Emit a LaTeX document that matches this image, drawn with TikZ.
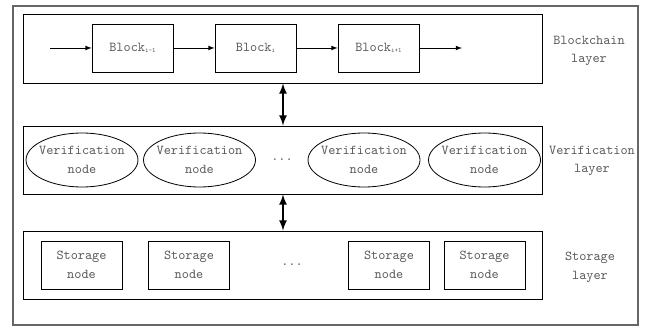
\documentclass[tikz,border=0pt]{standalone}
\usepackage{fontspec}
\usetikzlibrary{shapes.geometric,arrows}

\begin{document}
\begin{tikzpicture}
[x=0.75pt, y=-0.75pt,
 every node/.style ={font=\ttfamily\fontsize{10.2}{14}\selectfont, text=black!65},
 layer/.style ={rectangle, draw=black, line width=0.6pt, inner sep=0pt, minimum width=389.25pt, minimum height=51pt},
 blk/.style ={rectangle, draw=black, line width=0.6pt, inner sep=0pt, minimum width=60.75pt, minimum height=36pt},
 vnode/.style ={ellipse, draw=black, line width=0.6pt, inner sep=-5pt, minimum width=84pt, minimum height=40.5pt, align=center},
 snode/.style ={blk, align=center},
 lname/.style ={align=center},
 line/.style ={draw, line width=0.6pt, -latex},
 dline/.style ={draw, line width=1.6pt, latex-latex}]
\useasboundingbox (0,0) rectangle (648,327);
\draw[black!60, line width=0.9pt] (13,6) rectangle (638,325);
% layers
\draw (282.5, 48.5) node[layer, minimum height=51.75pt] (bcl) {};
\draw (282.5, 160) node[layer] (vl) {};
\draw (282.5, 265) node[layer] (sl) {};
\draw (589, 51) node[lname] (bcname) {Blockchain\\layer};
\draw (592, 161) node[lname] (vname) {Verification\\layer};
\draw (590, 267) node[lname] (sname) {Storage\\layer};
% blockchain
\draw (132.5, 48) node[blk] (b1) {Block\raisebox{-0.6pt}{\tiny i-1}};
\draw (255.5, 48) node[blk] (b2) {Block\raisebox{-0.6pt}{\tiny i}};
\draw (378.5, 48) node[blk] (b3) {Block\raisebox{-0.6pt}{\tiny i+1}};
\coordinate (in) at (50, 48);
\coordinate (out) at (462, 48);
\draw[line] (in) -- (b1);
\draw[line] (b1) -- (b2);
\draw[line] (b2) -- (b3);
\draw[line] (b3) -- (out);
% verification
\draw (82, 160) node[vnode] (v1) {Verification\\node};
\draw (199.5, 160) node[vnode] (v2) {Verification\\node};
\draw (282, 160) node[] (vdots) {...};
\draw (364, 160) node[vnode] (v3) {Verification\\node};
\draw (484.5, 160) node[vnode] (v4) {Verification\\node};
% storage
\draw (81.5, 265) node[snode] (s1) {Storage\\node};
\draw (189, 265) node[snode] (s2) {Storage\\node};
\draw (292, 265) node[] (sdots) {...};
\draw (389, 265) node[snode] (s3) {Storage\\node};
\draw (484.5, 265) node[snode] (s4) {Storage\\node};
\coordinate (ax) at (283, 0);
\draw[dline] (bcl.south -| ax) -- (vl.north -| ax);
\draw[dline] (vl.south -| ax) -- (sl.north -| ax);
\end{tikzpicture}
\end{document}
